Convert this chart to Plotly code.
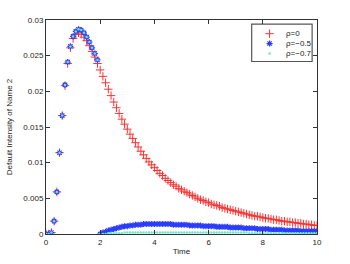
import plotly.graph_objects as go

time = [round(i * 0.1, 1) for i in range(101)]

rho0 = [0, 0, 0.0002, 0.0018, 0.0059, 0.0114, 0.0166, 0.0208, 0.0239, 0.0261,
        0.0274, 0.0280, 0.0282, 0.0280, 0.0276, 0.0271, 0.0264, 0.0256, 0.0248, 0.0239,
        0.0230, 0.0221, 0.0212, 0.0203, 0.0194, 0.0185, 0.0177, 0.0169, 0.0161, 0.0154,
        0.0147, 0.0140, 0.0134, 0.0128, 0.0122, 0.0116, 0.0111, 0.0106, 0.0101, 0.0097,
        0.0093, 0.0089, 0.0085, 0.0082, 0.0078, 0.0075, 0.0072, 0.0069, 0.0067, 0.0064,
        0.0062, 0.0060, 0.0058, 0.0056, 0.0054, 0.0052, 0.0050, 0.0048, 0.0047, 0.0045,
        0.0044, 0.0042, 0.0041, 0.0040, 0.0039, 0.0037, 0.0036, 0.0035, 0.0034, 0.0033,
        0.0032, 0.0031, 0.0030, 0.0029, 0.0028, 0.0027, 0.0026, 0.0025, 0.0025, 0.0024,
        0.0023, 0.0022, 0.0022, 0.0021, 0.0020, 0.0020, 0.0019, 0.0018, 0.0018, 0.0017,
        0.0017, 0.0016, 0.0016, 0.0015, 0.0015, 0.0014, 0.0014, 0.0013, 0.0013, 0.0012,
        0.0012]

rho_m05 = [0, 0, 0.0002, 0.0018, 0.0059, 0.0114, 0.0166, 0.0209, 0.0241, 0.0263,
           0.0277, 0.0284, 0.0287, 0.0286, 0.0282, 0.0276, 0.0269, 0.0261, 0.0253, 0.0244,
           0.0000, 0.0002, 0.0003, 0.0005, 0.0006, 0.0007, 0.0008, 0.0009, 0.0010, 0.0011,
           0.0011, 0.0012, 0.0012, 0.0013, 0.0013, 0.0013, 0.0014, 0.0014, 0.0014, 0.0014,
           0.0014, 0.0014, 0.0014, 0.0014, 0.0014, 0.0014, 0.0014, 0.0013, 0.0013, 0.0013,
           0.0013, 0.0013, 0.0013, 0.0012, 0.0012, 0.0012, 0.0012, 0.0012, 0.0011, 0.0011,
           0.0011, 0.0011, 0.0011, 0.0010, 0.0010, 0.0010, 0.0010, 0.0010, 0.0009, 0.0009,
           0.0009, 0.0009, 0.0009, 0.0008, 0.0008, 0.0008, 0.0008, 0.0008, 0.0007, 0.0007,
           0.0007, 0.0007, 0.0007, 0.0006, 0.0006, 0.0006, 0.0006, 0.0006, 0.0005, 0.0005,
           0.0005, 0.0005, 0.0005, 0.0005, 0.0004, 0.0004, 0.0004, 0.0004, 0.0004, 0.0004,
           0.0004]

rho_m07 = [0, 0, 0.0002, 0.0018, 0.0059, 0.0114, 0.0166, 0.0209, 0.0241, 0.0263,
           0.0277, 0.0284, 0.0287, 0.0286, 0.0282, 0.0276, 0.0269, 0.0261, 0.0253, 0.0244,
           0.0000, 0.0000, 0.0000, 0.0001, 0.0001, 0.0001, 0.0001, 0.0001, 0.0001, 0.0002,
           0.0002, 0.0002, 0.0002, 0.0002, 0.0002, 0.0002, 0.0002, 0.0002, 0.0002, 0.0002,
           0.0002, 0.0002, 0.0002, 0.0002, 0.0002, 0.0002, 0.0002, 0.0002, 0.0002, 0.0002,
           0.0002, 0.0002, 0.0002, 0.0002, 0.0002, 0.0002, 0.0002, 0.0002, 0.0002, 0.0002,
           0.0002, 0.0002, 0.0002, 0.0002, 0.0002, 0.0002, 0.0002, 0.0002, 0.0002, 0.0002,
           0.0002, 0.0002, 0.0002, 0.0002, 0.0002, 0.0001, 0.0001, 0.0001, 0.0001, 0.0001,
           0.0001, 0.0001, 0.0001, 0.0001, 0.0001, 0.0001, 0.0001, 0.0001, 0.0001, 0.0001,
           0.0001, 0.0001, 0.0001, 0.0001, 0.0001, 0.0001, 0.0001, 0.0001, 0.0001, 0.0001,
           0.0001]

series_names = ["ρ=0", "ρ=−0.5", "ρ=−0.7"]
x_ticks = [0, 2, 4, 6, 8, 10]
y_ticks = [0, 0.005, 0.01, 0.015, 0.02, 0.025, 0.03]
y_tick_labels = ["0", "0.005", "0.01", "0.015", "0.02", "0.025", "0.03"]

FONT = "Liberation Sans, Arial, sans-serif"
TXT = "#222222"
AX = "#333333"

# marker styles per series
styles = [
    dict(symbol="cross-thin", size=6, color="#ff3030", line=dict(color="#ff3030", width=1)),
    dict(symbol="asterisk-open", size=5, color="#2a3cff", line=dict(color="#2a3cff", width=1.2)),
    dict(symbol="circle", size=2.5, color="#6ee8cc", line=dict(width=0)),
]
series = [rho0, rho_m05, rho_m07]

fig = go.Figure()
for name, vals, st in zip(series_names, series, styles):
    fig.add_trace(go.Scatter(x=time, y=vals, mode="markers", name=name,
                             marker=st, showlegend=False))

# compact MATLAB-like legend (box + swatches + labels), placed in axes-fraction coords
LEG_X0, LEG_X1, LEG_Y0, LEG_Y1 = 0.759, 0.982, 0.806, 0.981
LEG_SWATCH_X, LEG_TEXT_X = 0.825, 0.877
LEG_ROWS = [0.936, 0.890, 0.843]

fig.add_shape(type="rect", xref="paper", yref="paper",
              x0=LEG_X0, x1=LEG_X1, y0=LEG_Y0, y1=LEG_Y1,
              line=dict(color="#555555", width=1.2), fillcolor="white", layer="below")
for name, st, ry in zip(series_names, styles, LEG_ROWS):
    fig.add_trace(go.Scatter(x=[LEG_SWATCH_X], y=[ry], mode="markers", marker=st,
                             xaxis="x2", yaxis="y2", showlegend=False, hoverinfo="skip"))
    fig.add_annotation(x=LEG_TEXT_X, y=ry, xref="paper", yref="paper", text=name,
                       showarrow=False, xanchor="left", yanchor="middle",
                       font=dict(family=FONT, size=8, color=TXT))

axis_common = dict(
    showline=True, linecolor=AX, linewidth=1, mirror="ticks",
    ticks="inside", ticklen=4, tickcolor=AX, tickwidth=1,
    showgrid=False, zeroline=False, automargin=False,
    tickfont=dict(family=FONT, size=8, color=TXT),
)

fig.update_layout(
    width=350, height=264,
    margin=dict(l=46, r=33, t=20, b=30, autoexpand=False),
    paper_bgcolor="white", plot_bgcolor="white",
    font=dict(family=FONT, size=8, color=TXT),
    showlegend=False,
    hovermode=False,
    xaxis=dict(range=[0, 10], tickvals=x_ticks, ticktext=[str(v) for v in x_ticks],
               title=dict(text="Time", font=dict(family=FONT, size=8, color=TXT), standoff=2),
               **axis_common),
    yaxis=dict(range=[0, 0.03], tickvals=y_ticks, ticktext=y_tick_labels,
               title=dict(text="Default Intensity of Name 2", font=dict(family=FONT, size=8, color=TXT), standoff=9),
               **axis_common),
    xaxis2=dict(overlaying="x", range=[0, 1], visible=False, fixedrange=True),
    yaxis2=dict(overlaying="y", range=[0, 1], visible=False, fixedrange=True),
)

fig.write_html("out.html", config={"displayModeBar": False, "staticPlot": True},
               post_script="document.body.style.margin='0';document.body.style.overflow='hidden';")
